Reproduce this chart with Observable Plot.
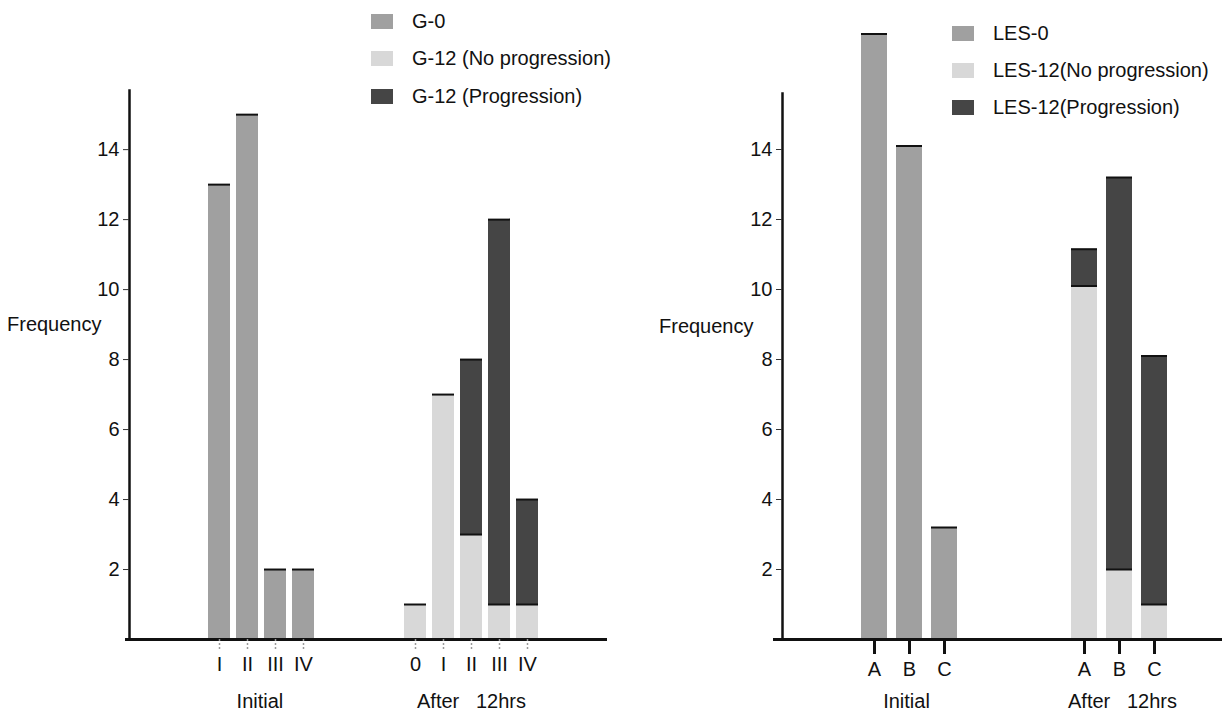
<!DOCTYPE html>
<html><head><meta charset="utf-8">
<script src="https://cdn.jsdelivr.net/npm/d3@7"></script>
<script src="https://cdn.jsdelivr.net/npm/@observablehq/plot@0.6"></script>
<style>
body{margin:0;background:#fff;}
#wrap{position:relative;width:1224px;height:712px;font-family:"Liberation Sans",Arial,sans-serif;}
.panel{position:absolute;top:0;}
svg text{white-space:pre;}
.legend{position:absolute;font-size:20px;color:#111;}
.legend .row{position:absolute;left:0;white-space:nowrap;display:flex;align-items:center;height:24px;}
.sw{display:inline-block;width:22px;height:15px;margin-right:19px;}
</style></head><body><div id="wrap"></div>
<script>
// ---------- data ----------
const gInitialCategories = ["I", "II", "III", "IV"];
const gAfterCategories = ["0", "I", "II", "III", "IV"];
const gSeries = ["G-0", "G-12 (No progression)", "G-12 (Progression)"];
const g0Initial = [13, 15, 2, 2];
const g12NoProgression = [1, 7, 3, 1, 1];
const g12Progression = [0, 0, 5, 11, 3];

const lesCategories = ["A", "B", "C"];
const lesSeries = ["LES-0", "LES-12(No progression)", "LES-12(Progression)"];
const les0Initial = [17.3, 14.1, 3.2];
const les12NoProgression = [10.1, 2.0, 1.0];
const les12Progression = [1.05, 11.2, 7.1];

const groupLabels = ["Initial", "After   12hrs"];
const yTicks = [2, 4, 6, 8, 10, 12, 14];
const yLabel = "Frequency";
const seriesColors = ["#a0a0a0", "#d8d8d8", "#454545"];

// ---------- panel builder ----------
function makePanel(cfg) {
  const initKeys = cfg.initialCats.map(c => "Initial|" + c);
  const afterKeys = cfg.afterCats.map(c => "After|" + c);
  const gapKeys = d3.range(cfg.gaps).map(i => "gap|" + i);
  const domain = [...initKeys, ...gapKeys, ...afterKeys];
  const tickKeys = [...initKeys, ...afterKeys];
  const rows = [
    ...cfg.initialCats.map((c, i) => ({key: "Initial|" + c, series: cfg.series[0], value: cfg.initial[i]})),
    ...cfg.afterCats.map((c, i) => ({key: "After|" + c, series: cfg.series[1], value: cfg.noProg[i]})),
    ...cfg.afterCats.map((c, i) => ({key: "After|" + c, series: cfg.series[2], value: cfg.prog[i]}))
  ].filter(d => d.value > 0);
  const step = (cfg.xRange[1] - cfg.xRange[0]) / domain.length;
  const font = "'Liberation Sans', Arial, sans-serif";
  return Plot.plot({
    width: 612, height: 712,
    marginLeft: cfg.marginLeft, marginRight: cfg.marginRight,
    marginTop: cfg.marginTop, marginBottom: 73,
    style: {fontFamily: font, fontSize: "20px", color: "#111", background: "transparent"},
    x: {type: "band", domain, range: cfg.xRange, paddingInner: cfg.pad, paddingOuter: cfg.pad / 2},
    y: {domain: [0, cfg.yMax]},
    color: {domain: cfg.series, range: seriesColors},
    marks: [
      Plot.barY(rows, {x: "key", y: "value", fill: "series"}),
      Plot.tickY(rows, Plot.stackY2({x: "key", y: "value", z: "series", stroke: "#111", strokeWidth: 2})),
      Plot.ruleY([0], {stroke: "#111", strokeWidth: 3, insetLeft: cfg.baseExtend}),
      Plot.frame({anchor: "left", stroke: "#111", strokeWidth: 2.5}),
      Plot.axisY({ticks: yTicks, tickSize: 6, tickPadding: 4, label: null, fontSize: 20, stroke: "#333"}),
      Plot.axisX({ticks: tickKeys, tickSize: cfg.tickSize, tickFormat: () => "", label: null,
                  stroke: cfg.tickStroke, strokeWidth: cfg.tickWidth, strokeDasharray: cfg.tickDash}),
      Plot.axisX({ticks: tickKeys, tickSize: 0, tickPadding: cfg.tickSize + 7, label: null,
                  tickFormat: k => k.split("|")[1], fontSize: 20, fill: "#111"}),
      Plot.text([yLabel], {text: d => d, frameAnchor: "left", textAnchor: "end",
                  dx: cfg.labelDx, dy: -40, fontSize: 20, fill: "#111"}),
      Plot.text([{key: cfg.initialLabelKey, label: groupLabels[0]}], {x: "key", text: "label",
                  frameAnchor: "bottom", lineAnchor: "middle", dy: 62,
                  dx: cfg.initialLabelShift * step + cfg.initialLabelNudge, fontSize: 20, fill: "#111"}),
      Plot.text([{key: cfg.afterLabelKey, label: groupLabels[1]}], {x: "key", text: "label",
                  frameAnchor: "bottom", lineAnchor: "middle", dy: 62,
                  dx: cfg.afterLabelNudge, fontSize: 20, fill: "#111"})
    ]
  });
}

function makeLegend(series, left, tops) {
  const lg = document.createElement("div");
  lg.className = "legend";
  lg.style.left = left + "px";
  lg.style.top = "0px";
  series.forEach((s, i) => {
    const row = document.createElement("div");
    row.className = "row";
    row.style.top = (tops[i] - 12) + "px";
    const sw = document.createElement("span");
    sw.className = "sw";
    sw.style.background = seriesColors[i];
    row.appendChild(sw);
    row.appendChild(document.createTextNode(s));
    lg.appendChild(row);
  });
  return lg;
}

const wrap = document.getElementById("wrap");

const left = makePanel({
  initialCats: gInitialCategories, afterCats: gAfterCategories, gaps: 3,
  series: gSeries, initial: g0Initial, noProg: g12NoProgression, prog: g12Progression,
  marginLeft: 129, marginRight: 5, marginTop: 90, yMax: 15.69,
  xRange: [199.5, 546.5], pad: 0.2, baseExtend: -4,
  tickSize: 10, tickStroke: "#9a9a9a", tickWidth: 1.5, tickDash: "2,2",
  labelDx: -28,
  initialLabelKey: "Initial|II", initialLabelShift: 0.5, initialLabelNudge: -2,
  afterLabelKey: "After|II", afterLabelNudge: 0
});
const lp = document.createElement("div"); lp.className = "panel"; lp.style.left = "0px";
lp.appendChild(left); wrap.appendChild(lp);

const right = makePanel({
  initialCats: lesCategories, afterCats: lesCategories, gaps: 3,
  series: lesSeries, initial: les0Initial, noProg: les12NoProgression, prog: les12Progression,
  marginLeft: 170, marginRight: 2, marginTop: 93, yMax: 15.6,
  xRange: [243.3, 560.1], pad: 0.25, baseExtend: -9,
  tickSize: 15, tickStroke: "#111", tickWidth: 3, tickDash: null,
  labelDx: -29,
  initialLabelKey: "Initial|B", initialLabelShift: 0, initialLabelNudge: -3,
  afterLabelKey: "After|B", afterLabelNudge: 3
});
const rp = document.createElement("div"); rp.className = "panel"; rp.style.left = "612px";
rp.appendChild(right); wrap.appendChild(rp);

wrap.appendChild(makeLegend(gSeries, 371, [21, 58, 96]));
wrap.appendChild(makeLegend(lesSeries, 952, [33, 70, 107]));
</script>
</body></html>
